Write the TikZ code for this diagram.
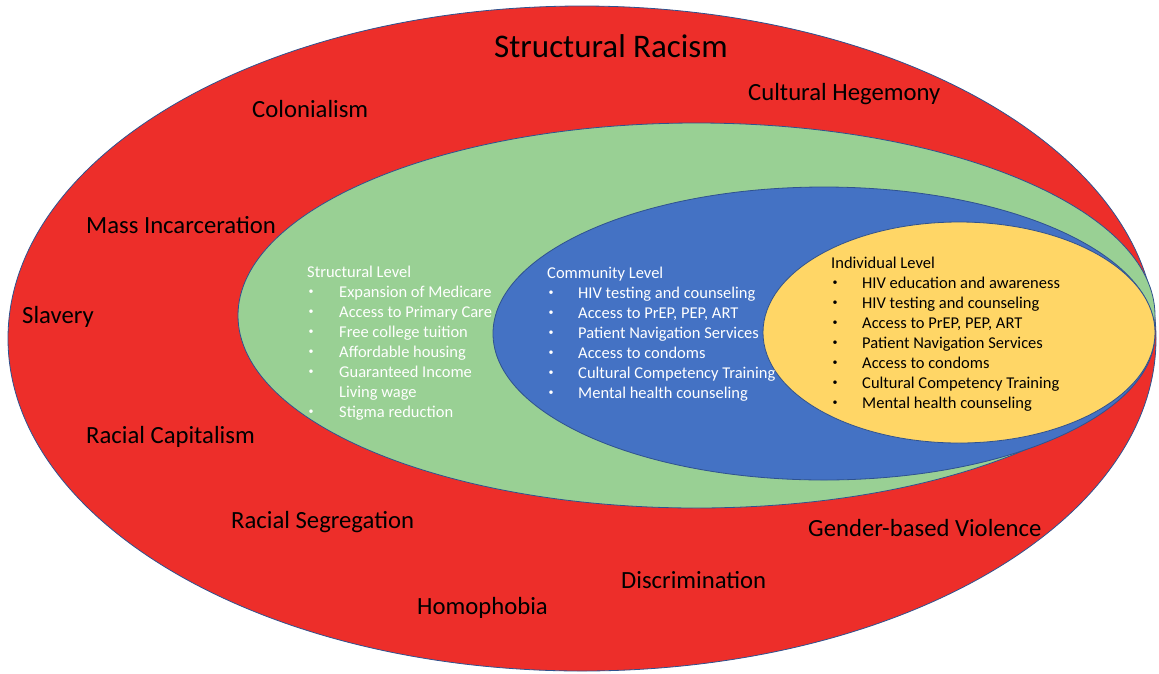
\documentclass[tikz,border=0pt]{standalone}
\usepackage{fontspec}
\setmainfont{Carlito}
\usepackage{array}
\usepackage{tikz}

\definecolor{racered}{RGB}{237,46,42}
\definecolor{levelgreen}{RGB}{153,208,148}
\definecolor{levelblue}{RGB}{68,114,196}
\definecolor{levelyellow}{RGB}{255,214,102}
\definecolor{rimblue}{RGB}{47,82,143}

\tikzset{
  rim/.style={draw=rimblue, line width=0.8pt},
  force/.style={anchor=base west, inner sep=0pt, font=\fontsize{24.7}{30}\selectfont},
  levellist/.style={anchor=base west, inner sep=0pt, font=\fontsize{16.5}{20}\selectfont}
}
\newcommand{\levelitem}[1]{\hspace{1.5pt}\raisebox{2.2pt}{\fontsize{10}{10}\selectfont\textbullet} & #1\\}

\begin{document}
\begin{tikzpicture}[x=1pt, y=-1pt]
    \useasboundingbox (0,0) rectangle (1159,673);
    \draw [rim, fill=racered] (582,338.5) ellipse [x radius=574pt, y radius=332.5pt];
    \draw [rim, fill=levelgreen] (696.5,315.5) ellipse [x radius=458.5pt, y radius=192.5pt];
    \draw [rim, fill=levelblue] (824,333.5) ellipse [x radius=331pt, y radius=146.5pt];
    \draw [rim, fill=levelyellow] (959,332.5) ellipse [x radius=196pt, y radius=110.5pt];

    \node (racism) [anchor=base, inner sep=0pt, font=\fontsize{33}{40}\selectfont] at (611,57) {Structural Racism};
    \node (colonialism) [force] at (252,117) {Colonialism};
    \node (hegemony) [force] at (748,100) {Cultural Hegemony};
    \node (incarceration) [force] at (86,233) {Mass Incarceration};
    \node (slavery) [force] at (22,323) {Slavery};
    \node (capitalism) [force] at (86,443) {Racial Capitalism};
    \node (segregation) [force] at (231,528) {Racial Segregation};
    \node (violence) [force] at (808,536) {Gender-based Violence};
    \node (discrimination) [force] at (621,588) {Discrimination};
    \node (homophobia) [force] at (417,614) {Homophobia};

    \node (structural) [levellist, text=white] at (307,277) {\begin{tabular}[t]{@{}p{32pt}@{}l@{}}
        \multicolumn{2}{@{}l@{}}{Structural Level}\\
        \levelitem{Expansion of Medicare}
        \levelitem{Access to Primary Care}
        \levelitem{Free college tuition}
        \levelitem{Affordable housing}
        \levelitem{Guaranteed Income}
        & Living wage\\
        \levelitem{Stigma reduction}
    \end{tabular}};
    \node (community) [levellist, text=white] at (547,278) {\begin{tabular}[t]{@{}p{31pt}@{}l@{}}
        \multicolumn{2}{@{}l@{}}{Community Level}\\
        \levelitem{HIV testing and counseling}
        \levelitem{Access to PrEP, PEP, ART}
        \levelitem{Patient Navigation Services}
        \levelitem{Access to condoms}
        \levelitem{Cultural Competency Training}
        \levelitem{Mental health counseling}
    \end{tabular}};
    \node (individual) [levellist, text=black] at (831,268) {\begin{tabular}[t]{@{}p{31pt}@{}l@{}}
        \multicolumn{2}{@{}l@{}}{Individual Level}\\
        \levelitem{HIV education and awareness}
        \levelitem{HIV testing and counseling}
        \levelitem{Access to PrEP, PEP, ART}
        \levelitem{Patient Navigation Services}
        \levelitem{Access to condoms}
        \levelitem{Cultural Competency Training}
        \levelitem{Mental health counseling}
    \end{tabular}};
\end{tikzpicture}
\end{document}
